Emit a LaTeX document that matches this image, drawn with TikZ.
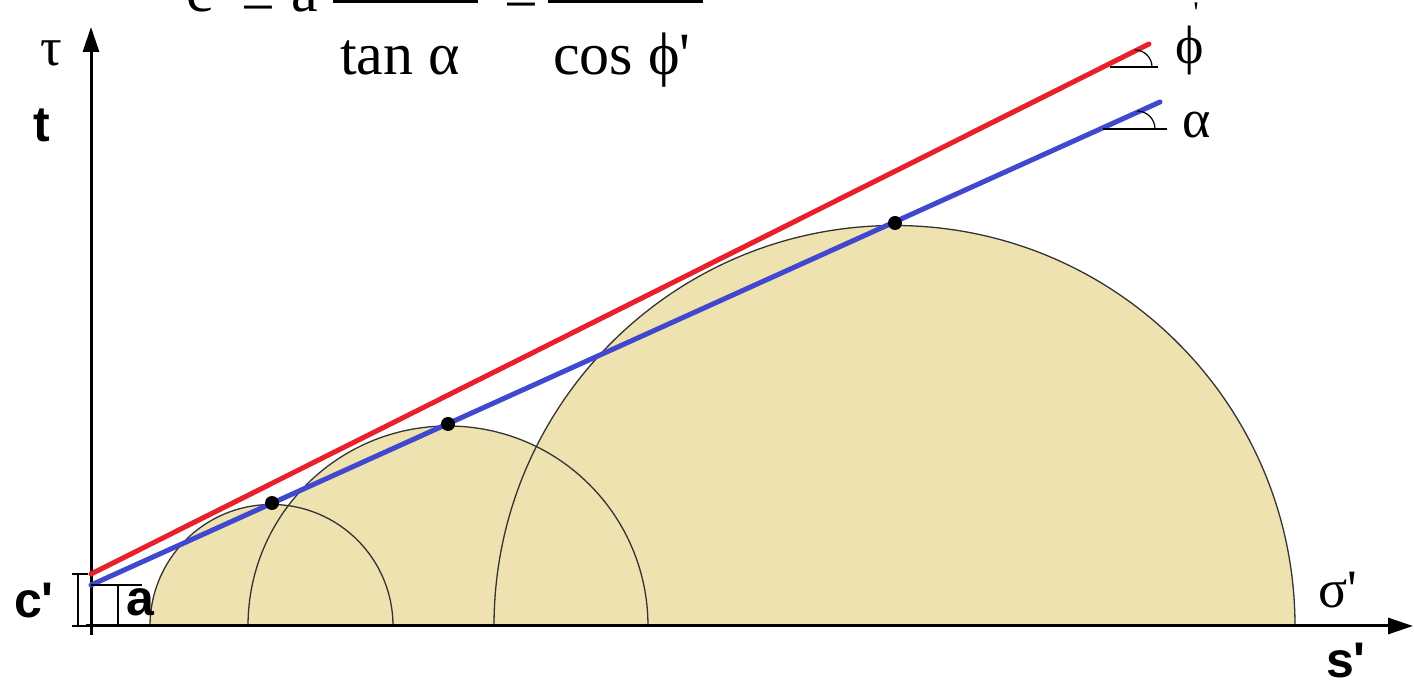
\documentclass[tikz,border=0pt]{standalone}
\usepackage{fontspec}
\setmainfont{Liberation Serif}
\newfontfamily\labsans{Liberation Sans}
\usetikzlibrary{arrows.meta}
\definecolor{soil}{RGB}{238,226,176}
\definecolor{envred}{RGB}{232,32,42}
\definecolor{envblue}{RGB}{64,72,208}
\newcommand{\pr}{\textquotesingle}
\tikzset{
  axisline/.style={line width=3pt,-{Triangle[length=25pt,width=16pt]}},
  circfill/.style={fill=soil},
  circline/.style={draw=black!80,line width=1.3pt},
  envelope/.style={line width=5pt},
  thin/.style={line width=1.2pt},
  greek/.style={font=\fontsize{54}{54}\selectfont},
  boldlab/.style={font=\fontsize{50}{50}\selectfont\labsans\bfseries},
  formula/.style={font=\fontsize{60}{60}\selectfont,inner sep=0pt,anchor=base west},
  dot/.style={circle,fill=black,inner sep=0pt,minimum size=14pt}
}
\begin{document}
\begin{tikzpicture}[x=1pt,y=1pt]
\useasboundingbox (0,0) rectangle (1414,683);
\clip (0,0) rectangle (1414,683);
% origin and key points
\coordinate (O) at (91,57);
\coordinate (ytip) at (91,656);
\coordinate (ybot) at (91,48);
\coordinate (xstart) at (86,57);
\coordinate (xtip) at (1413,57);
% fills of the Mohr circles
\fill[circfill] (150,57) arc[start angle=180,end angle=0,radius=121.5] -- cycle;
\fill[circfill] (248,57) arc[start angle=180,end angle=0,radius=200] -- cycle;
\fill[circfill] (494,57) arc[start angle=180,end angle=0,radius=400.5] -- cycle;
% outlines
\draw[circline] (150,57) arc[start angle=180,end angle=0,radius=121.5];
\draw[circline] (248,57) arc[start angle=180,end angle=0,radius=200];
\draw[circline] (494,57) arc[start angle=180,end angle=0,radius=400.5];
% axes
\draw[axisline] (ybot) -- (ytip);
\draw[axisline] (xstart) -- (xtip);
% envelope lines
\coordinate (r0) at (91,109);
\coordinate (r1) at (1149,639);
\coordinate (b0) at (91,98);
\coordinate (b1) at (1160,581);
\draw[envelope,envred,line cap=round] (r0) -- (r1);
\draw[envelope,envblue,line cap=round] (b0) -- (b1);
% tangent points
\node[dot] (p1) at (272,180) {};
\node[dot] (p2) at (448,259) {};
\node[dot] (p3) at (895,460) {};
% c' and a brackets
\coordinate (c0) at (72,109);
\coordinate (c1) at (88,109);
\coordinate (c2) at (72,57);
\coordinate (c3) at (88,57);
\draw[thin] (c0) -- (c1);
\draw[thin] (c2) -- (c3);
\draw[thin] (78,109) -- (78,57);
\coordinate (a0) at (142,98);
\draw[thin] (b0) -- (a0);
\draw[thin] (118,98) -- (118,57);
% angle marks
\coordinate (hr0) at (1110,616);
\coordinate (hr1) at (1158,616);
\draw[thin] (hr0) -- (hr1);
\draw[thin] (1152,616) arc[start angle=0,end angle=90,radius=17];
\coordinate (hb0) at (1103,554);
\coordinate (hb1) at (1167,554);
\draw[thin] (hb0) -- (hb1);
\draw[thin] (1155,554) arc[start angle=0,end angle=90,radius=18];
% labels
\node[greek] (tau) at (51,630) {τ};
\node[boldlab] (tlab) at (42,558) {t};
\node[boldlab] (clab) at (34,82) {c\pr};
\node[boldlab,inner sep=1pt] (alab) at (140,81) {a};
\node[boldlab] (slab) at (1346,22) {s\pr};
\node[greek] (sigma) at (1338,93) {σ\pr};
\node[greek] (phi) at (1190,632) {ϕ};
\node[font=\fontsize{30}{30}\selectfont] (phiprime) at (1196,670) {\pr};
\node[greek] (alpha) at (1197,558) {α};
% formula (cut by the top edge)
\node[formula] (fc) at (186,671) {c\pr};
\node[formula] (feq1) at (241,661) {=};
\node[formula] (fa) at (291,671) {a};
\coordinate (f1l) at (333,681);
\coordinate (f1r) at (478,681);
\draw[line width=3pt] (f1l) -- (f1r);
\node[formula] (fden1) at (340,608) {tan α};
\node[formula] (feq2) at (504,664) {=};
\coordinate (f2l) at (548,681);
\coordinate (f2r) at (703,681);
\draw[line width=3pt] (f2l) -- (f2r);
\node[formula] (fden2) at (553,608) {cos ϕ\pr};
\end{tikzpicture}
\end{document}
